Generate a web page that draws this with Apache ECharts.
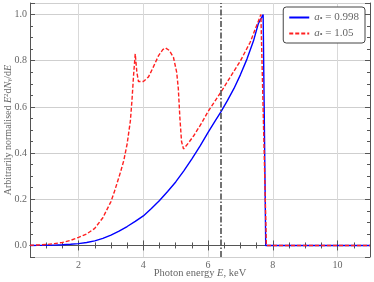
<!DOCTYPE html>
<html>
<head>
<meta charset="utf-8">
<script src="https://cdn.jsdelivr.net/npm/echarts@6/dist/echarts.min.js"></script>
<style>html,body{margin:0;padding:0;background:#fff}#c{width:374px;height:282px}</style>
</head>
<body>
<div id="c"></div>
<script>
const blueX = [0.5, 0.75, 1.0, 1.25, 1.5, 1.75, 2.0, 2.25, 2.5, 2.75, 3.0, 3.25, 3.5, 3.75, 4.0, 4.25, 4.5, 4.75, 5.0, 5.25, 5.5, 5.75, 6.0, 6.2, 6.4, 6.6, 6.8, 7.0, 7.2, 7.4, 7.55, 7.7, 7.78, 11.0];
const blueY = [0.0, 0.0003, 0.0008, 0.0016, 0.003, 0.005, 0.008, 0.013, 0.02, 0.031, 0.045, 0.062, 0.082, 0.104, 0.128, 0.16, 0.195, 0.234, 0.275, 0.323, 0.375, 0.43, 0.49, 0.535, 0.58, 0.628, 0.68, 0.74, 0.807, 0.885, 0.96, 1.0, 0.0, 0.0];
const redX = [0.5, 0.75, 1.0, 1.25, 1.5, 1.75, 2.0, 2.25, 2.5, 2.75, 3.0, 3.1, 3.2, 3.3, 3.4, 3.5, 3.6, 3.65, 3.7, 3.75, 3.8, 3.85, 3.9, 4.0, 4.16, 4.3, 4.47, 4.6, 4.69, 4.8, 4.93, 5.03, 5.08, 5.13, 5.18, 5.24, 5.4, 5.55, 5.8, 6.0, 6.4, 7.0, 7.3, 7.63, 7.8, 11.0];
const redY = [0.001, 0.002, 0.004, 0.008, 0.013, 0.022, 0.035, 0.05, 0.074, 0.12, 0.19, 0.23, 0.275, 0.32, 0.37, 0.44, 0.54, 0.63, 0.74, 0.83, 0.75, 0.71, 0.703, 0.71, 0.73, 0.77, 0.822, 0.848, 0.855, 0.845, 0.815, 0.75, 0.68, 0.55, 0.45, 0.418, 0.445, 0.474, 0.53, 0.58, 0.665, 0.8, 0.88, 1.0, 0.0, 0.0];
const seriesNames = ['a1', 'a2'];
const spinLabels = ['0.998', '1.05'];
const ironLineE = 6.4;

const FONT = 'Liberation Serif';
const TXT = '#666';
const zip = (xs, ys) => xs.map((x, i) => [x, ys[i]]);

const tickCommon = {
  axisLine: {show: true, lineStyle: {color: '#555', width: 1}},
  axisTick: {show: true, inside: true, length: 5, lineStyle: {color: '#555'}},
  minorTick: {show: true, splitNumber: 4, length: 3, lineStyle: {color: '#555'}},
};

const chart = echarts.init(document.getElementById('c'), null, {renderer: 'canvas'});
chart.setOption({
  animation: false,
  backgroundColor: '#fff',
  grid: {left: 30, right: 4, top: 3, bottom: 25, containLabel: false, outerBoundsMode: 'none'},
  xAxis: [{
    type: 'value', min: 0.5, max: 11, splitNumber: 5, position: 'bottom',
    ...tickCommon,
    axisLabel: {color: TXT, fontFamily: FONT, fontSize: 10, margin: 3, showMinLabel: false, showMaxLabel: false},
    splitLine: {show: true, lineStyle: {color: '#d9d9d9', width: 1}},
    name: '{n|Photon energy }{i|E}{n|, keV}', nameLocation: 'middle', nameGap: 11, nameMoveOverlap: false,
    nameTextStyle: {color: TXT, fontFamily: FONT, fontSize: 10,
      rich: {n: {color: TXT, fontFamily: FONT, fontSize: 10.5}, i: {color: TXT, fontFamily: FONT, fontSize: 10.5, fontStyle: 'italic'}}}
  }, {
    type: 'value', min: 0.5, max: 11, splitNumber: 5, position: 'top',
    ...tickCommon,
    axisLabel: {show: false}, splitLine: {show: false}
  }],
  yAxis: [{
    type: 'value', min: -0.05, max: 1.05, splitNumber: 5, position: 'left',
    ...tickCommon,
    axisLabel: {color: TXT, fontFamily: FONT, fontSize: 10, margin: 3, showMinLabel: false, showMaxLabel: false,
      formatter: v => v.toFixed(1)},
    splitLine: {show: true, lineStyle: {color: '#cfcfcf', width: 1}},
    name: '{n|Arbitrarily normalised }{i|E}{s|2}{n|d}{i|N}{b|γ}{n|/d}{i|E}', nameLocation: 'middle', nameGap: 17, nameMoveOverlap: false,
    nameTextStyle: {color: TXT, fontFamily: FONT, fontSize: 10,
      rich: {
        n: {color: TXT, fontFamily: FONT, fontSize: 10},
        i: {color: TXT, fontFamily: FONT, fontSize: 10, fontStyle: 'italic'},
        s: {color: TXT, fontFamily: FONT, fontSize: 7, verticalAlign: 'top'},
        b: {color: TXT, fontFamily: FONT, fontSize: 7, verticalAlign: 'bottom'}
      }}
  }, {
    type: 'value', min: -0.05, max: 1.05, splitNumber: 5, position: 'right',
    ...tickCommon,
    axisLabel: {show: false}, splitLine: {show: false}
  }],
  legend: {
    right: 9, top: 7, orient: 'vertical',
    backgroundColor: '#fff', borderColor: '#444', borderWidth: 1, borderRadius: 3,
    padding: [5, 6, 4, 5], itemGap: 5, itemWidth: 20, itemHeight: 10,
    itemStyle: {opacity: 0},
    data: seriesNames,
    formatter: name => '{i|a}{s|\u2022}{n| = ' + spinLabels[seriesNames.indexOf(name)] + '}',
    textStyle: {color: TXT, fontFamily: FONT, fontSize: 11,
      rich: {
        n: {color: TXT, fontFamily: FONT, fontSize: 11},
        i: {color: TXT, fontFamily: FONT, fontSize: 11, fontStyle: 'italic'},
        s: {color: TXT, fontFamily: FONT, fontSize: 8, verticalAlign: 'bottom'}
      }}
  },
  series: [{
    name: seriesNames[0], type: 'line', data: zip(blueX, blueY), showSymbol: false, symbol: 'none',
    lineStyle: {color: '#0000ff', width: 1.4}, itemStyle: {color: '#0000ff'}, z: 3,
    markLine: {
      silent: true, symbol: 'none', label: {show: false},
      lineStyle: {color: '#444', width: 1.5, type: [6, 2, 1.5, 2]},
      data: [{xAxis: ironLineE}]
    }
  }, {
    name: seriesNames[1], type: 'line', data: zip(redX, redY), showSymbol: false, symbol: 'none',
    lineStyle: {color: '#ff2020', width: 1.4, type: [4, 2]}, itemStyle: {color: '#ff2020'}, z: 4
  }]
});
</script>
</body>
</html>
